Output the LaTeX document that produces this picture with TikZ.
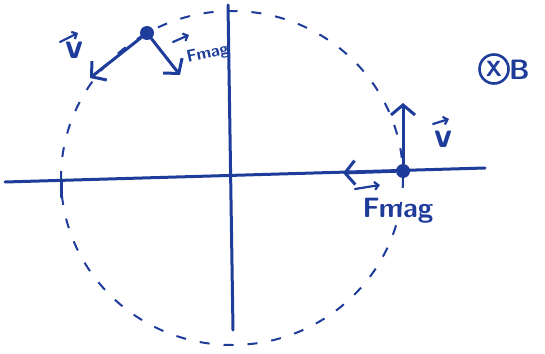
\documentclass[tikz,border=0pt]{standalone}
\usetikzlibrary{arrows.meta}
\definecolor{ink}{HTML}{1E3C9A}
\tikzset{
  pen/.style={draw=ink, line width=3pt, line cap=round},
  vec/.style={pen, -{Straight Barb[length=10pt,width=24pt]}},
  small/.style={draw=ink, line width=2.2pt, line cap=round, -{Straight Barb[length=4pt,width=8pt]}},
  lbl/.style={text=ink, font=\sffamily\bfseries\fontsize{28}{30}\selectfont, inner sep=0pt},
  vlbl/.style={text=ink, font=\sffamily\bfseries\fontsize{36}{38}\selectfont, inner sep=0pt},
  dot/.style={circle, fill=ink, inner sep=0pt, minimum size=14pt},
}
\begin{document}
\begin{tikzpicture}[x=1pt,y=-1pt]
\useasboundingbox (0,0) rectangle (545,353);
% axes
\coordinate (xl) at (5,182);
\coordinate (xr) at (485,168);
\coordinate (yt) at (228,5);
\coordinate (yb) at (233,330);
\draw[pen] (xl) -- (xr);
\draw[pen] (yt) -- (yb);
\coordinate (t1) at (61,182);
\coordinate (t2) at (61,197);
\draw[pen] (t1) -- (t2);
% dashed orbit
\draw[draw=ink, line width=2pt, dash pattern=on 10pt off 14pt] (232,178) ellipse [x radius=171, y radius=167];
% top particle
\node[dot] (p1) at (147,33) {};
\coordinate (v1) at (90,78);
\coordinate (f1) at (180,75);
\draw[vec] (p1) -- (v1);
\draw[vec] (p1) -- (f1);
\node[vlbl] (lv1) at (74,50) {v};
\coordinate (a1s) at (60,42);
\coordinate (a1e) at (78,33);
\draw[small] (a1s) -- (a1e);
\node[lbl, rotate=12, font=\sffamily\bfseries\fontsize{17}{19}\selectfont] (lf1) at (208,54) {Fmag};
\coordinate (a2s) at (173,42);
\coordinate (a2e) at (189,35);
\draw[small] (a2s) -- (a2e);
% right particle
\node[dot] (p2) at (403,171) {};
\coordinate (v2) at (403,103);
\coordinate (f2) at (343,173);
\draw[vec] (p2) -- (v2);
\draw[vec] (p2) -- (f2);
\node[vlbl] (lv2) at (443,139) {v};
\coordinate (a3s) at (433,124);
\coordinate (a3e) at (449,119);
\draw[small] (a3s) -- (a3e);
\node[lbl] (lf2) at (398,211) {Fmag};
\coordinate (a4s) at (355,189);
\coordinate (a4e) at (380,185);
\draw[small] (a4s) -- (a4e);
% B field into page
\node[draw=ink, line width=2.6pt, circle, minimum size=29pt, inner sep=0pt, text=ink, font=\sffamily\bfseries\fontsize{22}{24}\selectfont] (bx) at (494,69) {X};
\node[lbl, anchor=west] (bl) at (509,70) {B};
\end{tikzpicture}
\end{document}
